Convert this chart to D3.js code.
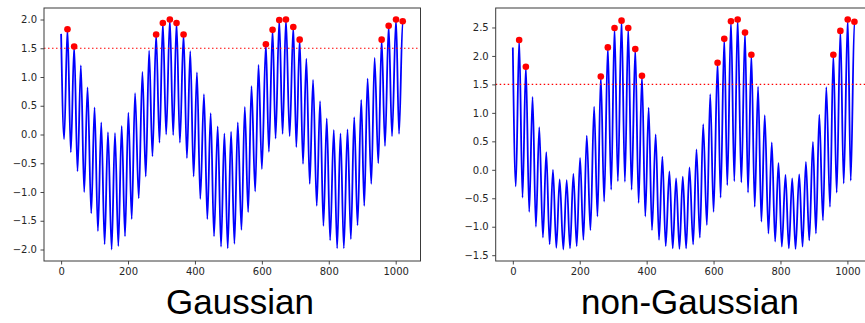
<!DOCTYPE html>
<html>
<head>
<meta charset="utf-8">
<script src="https://cdn.jsdelivr.net/npm/d3@7"></script>
<style>
  html, body { margin: 0; padding: 0; background: #fff; }
  svg { display: block; }
</style>
</head>
<body>
<svg id="chart" width="865" height="323"></svg>
<script>
// ---- data ----
const peakT   = [19,39,59,79,100,120,140,161,181,201,221,243,263,284,304,325,345,366,386,406,427,447,468,488,508,528,549,569,590,612,632,652,672,694,713,733,753,774,794,815,835,856,876,897,916,937,958,979,1001,1021];
const troughT = [9,29,49,69,90,110,130,151,171,191,211,232,253,273,294,314,335,355,376,396,416,437,457,478,498,518,539,559,580,600,621,641,662,683,703,723,743,764,784,804,825,845,866,886,906,927,948,968,989,1010];
const startT = 0;
const endT = 1023;

const gaussStart = 1.75;
const gaussEnd = 1.94;
const gaussPeaks = [1.83,1.53,1.20,0.82,0.47,0.21,0.04,0.03,0.15,0.38,0.72,1.09,1.46,1.74,1.94,2.00,1.94,1.74,1.45,1.08,0.70,
  0.37,0.14,0.02,0.05,0.21,0.48,0.84,1.21,1.57,1.82,1.99,2.00,1.87,1.65,1.32,0.95,0.58,0.28,0.08,0.02,0.09,0.30,0.60,0.97,1.33,1.65,1.89,2.00,1.97];
const gaussTroughs = [-0.08,-0.31,-0.64,-1.00,-1.37,-1.68,-1.91,-2.00,-1.94,-1.77,-1.47,-1.11,-0.73,-0.38,-0.14,0.00,-0.01,-0.14,-0.41,-0.73,-1.12,-1.47,-1.77,
  -1.95,-1.98,-1.90,-1.66,-1.35,-0.99,-0.60,-0.30,-0.07,0.01,-0.03,-0.22,-0.51,-0.86,-1.24,-1.59,-1.84,-1.98,-1.98,-1.82,-1.58,-1.24,-0.86,-0.50,-0.20,-0.03,0.01];

const nonGaussStart = 2.15;
const nonGaussEnd = 2.56;
const nonGaussPeaks = [2.28,1.81,1.28,0.75,0.31,0.00,-0.17,-0.18,-0.07,0.21,0.60,1.11,1.64,2.15,2.49,2.62,2.49,2.12,1.65,1.09,
  0.62,0.23,-0.03,-0.15,-0.12,0.04,0.36,0.80,1.33,1.88,2.30,2.61,2.64,2.41,2.02,1.46,0.96,0.48,0.12,-0.09,-0.15,-0.08,0.14,0.49,0.97,1.45,2.02,2.44,2.64,2.60];
const nonGaussTroughs = [-0.29,-0.49,-0.74,-1.00,-1.19,-1.31,-1.37,-1.40,-1.38,-1.34,-1.23,-1.06,-0.82,-0.56,-0.35,-0.20,-0.21,-0.35,-0.58,-0.82,
  -1.06,-1.23,-1.34,-1.38,-1.39,-1.38,-1.31,-1.19,-0.97,-0.74,-0.49,-0.27,-0.20,-0.22,-0.40,-0.65,-0.91,-1.12,-1.26,-1.35,-1.38,-1.39,-1.35,-1.24,-1.12,-0.89,-0.65,-0.40,-0.24,-0.19];

const threshold = 1.5;
const xTicks = [0, 200, 400, 600, 800, 1000];
const gaussYTicks = [-2.0, -1.5, -1.0, -0.5, 0.0, 0.5, 1.0, 1.5, 2.0];
const nonGaussYTicks = [-1.5, -1.0, -0.5, 0.0, 0.5, 1.0, 1.5, 2.0, 2.5];
const titles = ["Gaussian", "non-Gaussian"];

// ---- drawing ----
const svg = d3.select("#chart");

function buildPoints(start, end, peaks, troughs) {
  const pts = [{t: startT, v: start}];
  for (let i = 0; i < peaks.length; i++) {
    pts.push({t: troughT[i], v: troughs[i]});
    pts.push({t: peakT[i], v: peaks[i]});
  }
  pts.push({t: endT, v: end});
  return pts;
}

function panel(cfg) {
  const {left, top, width, height, pts, peaks, yTicks, title, titleX} = cfg;
  const g = svg.append("g");
  const tMin = startT, tMax = endT, tPad = (tMax - tMin) * 0.05;
  const x = d3.scaleLinear().domain([tMin - tPad, tMax + tPad]).range([left, left + width]);
  const ext = d3.extent(pts, d => d.v);
  const vPad = (ext[1] - ext[0]) * 0.05;
  const y = d3.scaleLinear().domain([ext[0] - vPad, ext[1] + vPad]).range([top + height, top]);

  // signal line
  const line = d3.line().x(d => x(d.t)).y(d => y(d.v)).curve(d3.curveMonotoneX);
  g.append("path").datum(pts)
    .attr("d", line)
    .attr("fill", "none")
    .attr("stroke", "#0000ff")
    .attr("stroke-width", 1.8);

  // threshold
  g.append("line")
    .attr("x1", left).attr("x2", left + width)
    .attr("y1", y(threshold)).attr("y2", y(threshold))
    .attr("stroke", "#ff0000")
    .attr("stroke-width", 1.1)
    .attr("stroke-dasharray", "1.5,2.5");

  // peaks over threshold
  const marked = peaks.map((v, i) => ({t: peakT[i], v})).filter(d => d.v > threshold);
  g.selectAll("circle").data(marked).join("circle")
    .attr("cx", d => x(d.t)).attr("cy", d => y(d.v))
    .attr("r", 3.3).attr("fill", "#ff0000");

  // axes
  const xAxis = d3.axisBottom(x).tickValues(xTicks).tickFormat(d3.format("d")).tickSizeOuter(0).tickSize(3.5).tickPadding(3.5);
  const yAxis = d3.axisLeft(y).tickValues(yTicks).tickFormat(d3.format(".1f")).tickSizeOuter(0).tickSize(3.5).tickPadding(3.5);
  const gx = g.append("g").attr("transform", `translate(0,${top + height})`).call(xAxis);
  const gy = g.append("g").attr("transform", `translate(${left},0)`).call(yAxis);
  [gx, gy].forEach(a => {
    a.select(".domain").remove();
    a.selectAll(".tick line").attr("stroke", "#333").attr("stroke-width", 0.9);
    a.selectAll(".tick text").attr("fill", "#262626")
      .style("font-family", "'DejaVu Sans', sans-serif").style("font-size", "10px");
  });

  // frame
  g.append("rect")
    .attr("x", left).attr("y", top).attr("width", width).attr("height", height)
    .attr("fill", "none").attr("stroke", "#3a3a3a").attr("stroke-width", 1);

  // title
  svg.append("text")
    .attr("x", titleX).attr("y", 314)
    .attr("text-anchor", "middle")
    .style("font-family", "'Liberation Sans', Arial, sans-serif")
    .style("font-size", "35px")
    .attr("fill", "#000")
    .text(title);
}

panel({
  left: 44, top: 8, width: 376.5, height: 253,
  pts: buildPoints(gaussStart, gaussEnd, gaussPeaks, gaussTroughs),
  peaks: gaussPeaks, yTicks: gaussYTicks, title: titles[0], titleX: 240
});
panel({
  left: 495.7, top: 8, width: 376.5, height: 253,
  pts: buildPoints(nonGaussStart, nonGaussEnd, nonGaussPeaks, nonGaussTroughs),
  peaks: nonGaussPeaks, yTicks: nonGaussYTicks, title: titles[1], titleX: 690
});
</script>
</body>
</html>
